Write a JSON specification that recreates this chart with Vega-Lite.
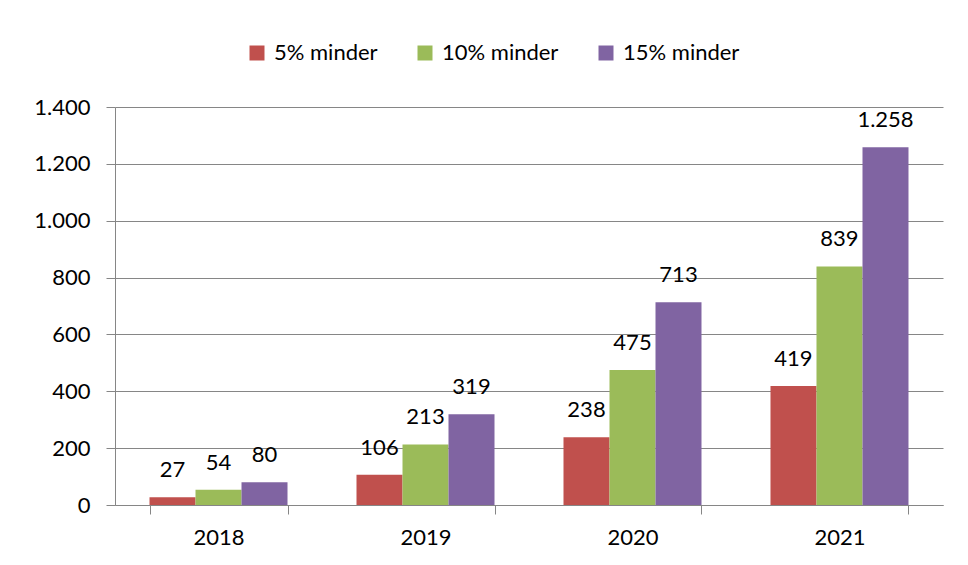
{
  "$schema": "https://vega.github.io/schema/vega-lite/v6.json",
  "width": 828,
  "height": 398,
  "autosize": {"type": "none"},
  "padding": {"left": 115, "top": 107, "right": 25, "bottom": 60},
  "background": "white",
  "config": {
    "font": "Lato",
    "view": {"stroke": null},
    "locale": {"number": {"decimal": ",", "thousands": ".", "grouping": [3], "currency": ["", " €"]}}
  },
  "data": {
    "values": [
      {"jaar": "2018", "reeks": "5% minder", "waarde": 27},
      {"jaar": "2018", "reeks": "10% minder", "waarde": 54},
      {"jaar": "2018", "reeks": "15% minder", "waarde": 80},
      {"jaar": "2019", "reeks": "5% minder", "waarde": 106},
      {"jaar": "2019", "reeks": "10% minder", "waarde": 213},
      {"jaar": "2019", "reeks": "15% minder", "waarde": 319},
      {"jaar": "2020", "reeks": "5% minder", "waarde": 238},
      {"jaar": "2020", "reeks": "10% minder", "waarde": 475},
      {"jaar": "2020", "reeks": "15% minder", "waarde": 713},
      {"jaar": "2021", "reeks": "5% minder", "waarde": 419},
      {"jaar": "2021", "reeks": "10% minder", "waarde": 839},
      {"jaar": "2021", "reeks": "15% minder", "waarde": 1258}
    ]
  },
  "encoding": {
    "x": {
      "field": "jaar", "type": "nominal",
      "scale": {"paddingInner": 0.3333, "paddingOuter": 0.1667},
      "axis": {
        "title": null, "labelAngle": 0, "tickBand": "extent",
        "domainColor": "#868686", "tickColor": "#868686", "tickSize": 9,
        "labelFontSize": 22, "labelColor": "black", "labelPadding": 13,
        "grid": false
      }
    },
    "xOffset": {"field": "reeks", "type": "nominal", "sort": ["5% minder", "10% minder", "15% minder"]},
    "y": {
      "field": "waarde", "type": "quantitative",
      "scale": {"domain": [0, 1400]},
      "axis": {
        "title": null, "values": [0, 200, 400, 600, 800, 1000, 1200, 1400],
        "format": ",d", "gridColor": "#868686", "gridOpacity": 1,
        "domainColor": "#868686", "tickColor": "#868686", "tickSize": 9,
        "labelFontSize": 22, "labelColor": "black", "labelPadding": 16
      }
    }
  },
  "layer": [
    {
      "mark": {"type": "bar"},
      "encoding": {
        "color": {
          "field": "reeks", "type": "nominal",
          "sort": ["5% minder", "10% minder", "15% minder"],
          "scale": {"domain": ["5% minder", "10% minder", "15% minder"], "range": ["#C0504D", "#9BBB59", "#8064A2"]},
          "legend": {
            "title": null, "orient": "none", "direction": "horizontal",
            "legendX": 131, "legendY": -65,
            "symbolType": "square", "symbolSize": 225, "symbolStrokeWidth": 0,
            "labelFontSize": 22, "labelColor": "black", "labelOffset": 6,
            "columnPadding": 36, "padding": 0
          }
        }
      }
    },
    {
      "mark": {"type": "text", "baseline": "alphabetic", "dy": -20, "fontSize": 22, "color": "black"},
      "encoding": {
        "text": {"field": "waarde", "type": "quantitative", "format": ",d"}
      }
    }
  ]
}
